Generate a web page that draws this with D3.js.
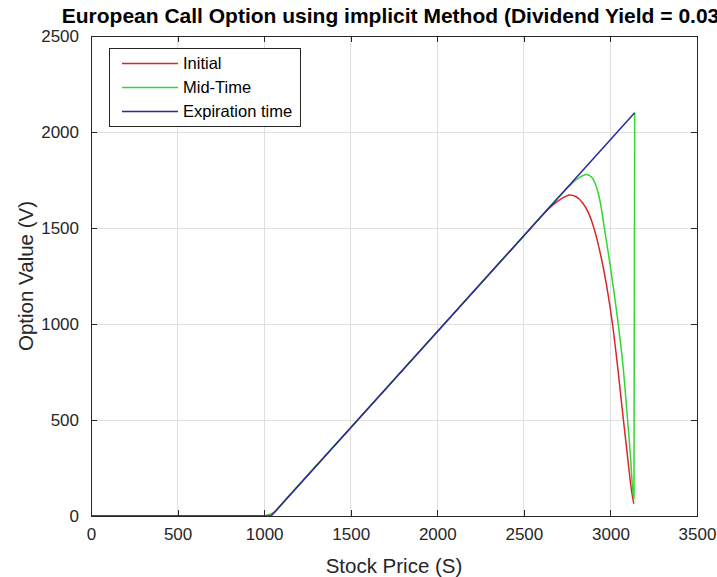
<!DOCTYPE html>
<html>
<head>
<meta charset="utf-8">
<script src="https://cdn.jsdelivr.net/npm/d3@7"></script>
<style>
  html, body { margin: 0; padding: 0; background: #fff; }
  svg { display: block; }
  text { font-family: "Liberation Sans", Arial, Helvetica, sans-serif; }
</style>
</head>
<body>
<svg id="chart" width="717" height="577"></svg>
<script>
// ---- data ----
const xTicks = [0, 500, 1000, 1500, 2000, 2500, 3000, 3500];
const yTicks = [0, 500, 1000, 1500, 2000, 2500];

const seriesNames = ["Initial", "Mid-Time", "Expiration time"];
const seriesColors = ["#d8262a", "#33d633", "#2a2aa0"];

const initialS = [0, 990, 1010, 1030, 1050, 1070, 1090, 1110, 1500, 2000, 2500, 2600, 2650, 2700, 2740, 2764, 2800, 2840, 2870, 2896, 2920, 2947, 2980, 3012, 3045, 3075, 3100, 3123, 3135];
const initialV = [0, 0, 2, 7, 15, 30, 50, 70, 460, 960, 1460, 1560, 1606, 1642, 1664, 1672, 1664, 1630, 1585, 1525, 1450, 1345, 1190, 1000, 750, 500, 300, 125, 64];

const midS = [0, 990, 1010, 1030, 1050, 1070, 1090, 1110, 1500, 2000, 2500, 2700, 2760, 2800, 2830, 2860, 2880, 2900, 2920, 2940, 2965, 2994, 3020, 3045, 3075, 3099, 3115, 3129, 3136, 3140];
const midV = [0, 0, 1, 5, 12, 28, 49, 70, 460, 960, 1460, 1660, 1716, 1750, 1768, 1778, 1773, 1755, 1712, 1640, 1500, 1333, 1170, 1000, 760, 500, 320, 133, 90, 2100];

const expS = [0, 1040, 3140];
const expV = [0, 0, 2100];

const titleText = "European Call Option using implicit Method (Dividend Yield = 0.03)";
const xLabel = "Stock Price (S)";
const yLabel = "Option Value (V)";

// ---- layout ----
const svg = d3.select("#chart");
const L = 91, R = 697, T = 36, B = 516;
const x = d3.scaleLinear().domain([0, 3500]).range([L, R]);
const y = d3.scaleLinear().domain([0, 2500]).range([B, T]);
const axisColor = "#262626";
const tickLen = 6;

// grid
const g = svg.append("g");
g.selectAll(".gx").data(xTicks.slice(1, -1)).enter().append("line")
  .attr("x1", d => x(d)).attr("x2", d => x(d)).attr("y1", T).attr("y2", B)
  .attr("stroke", "#dfdfdf").attr("stroke-width", 1).attr("shape-rendering", "crispEdges");
g.selectAll(".gy").data(yTicks.slice(1, -1)).enter().append("line")
  .attr("y1", d => y(d)).attr("y2", d => y(d)).attr("x1", L).attr("x2", R)
  .attr("stroke", "#dfdfdf").attr("stroke-width", 1).attr("shape-rendering", "crispEdges");

// series
const series = [
  {S: initialS, V: initialV, c: seriesColors[0], curve: d3.curveMonotoneX},
  {S: midS, V: midV, c: seriesColors[1], curve: d3.curveMonotoneX},
  {S: expS, V: expV, c: seriesColors[2], curve: d3.curveLinear}
];
series.forEach(s => {
  const line = d3.line().x(d => x(d[0])).y(d => y(d[1])).curve(s.curve);
  svg.append("path")
    .datum(s.S.map((v, i) => [v, s.V[i]]))
    .attr("d", line)
    .attr("fill", "none")
    .attr("stroke", s.c)
    .attr("stroke-width", 1.5)
    .attr("stroke-linejoin", "round");
});

// axes (MATLAB-style box with inward ticks)
const axB = d3.axisBottom(x).tickValues(xTicks).tickSizeInner(-tickLen).tickSizeOuter(0).tickPadding(12).tickFormat(d3.format("d"));
const axT = d3.axisTop(x).tickValues(xTicks).tickSizeInner(-tickLen).tickSizeOuter(0).tickFormat("");
const axL = d3.axisLeft(y).tickValues(yTicks).tickSizeInner(-tickLen).tickSizeOuter(0).tickPadding(12).tickFormat(d3.format("d"));
const axR = d3.axisRight(y).tickValues(yTicks).tickSizeInner(-tickLen).tickSizeOuter(0).tickFormat("");

function styleAxis(sel) {
  sel.selectAll("path").attr("stroke", axisColor).attr("shape-rendering", "crispEdges");
  sel.selectAll("line").attr("stroke", axisColor).attr("shape-rendering", "crispEdges");
  sel.selectAll("text").attr("fill", axisColor).style("font-size", "17px")
    .style("font-family", '"Liberation Sans", Arial, Helvetica, sans-serif');
}
styleAxis(svg.append("g").attr("transform", `translate(0,${B})`).call(axB));
styleAxis(svg.append("g").attr("transform", `translate(0,${T})`).call(axT));
styleAxis(svg.append("g").attr("transform", `translate(${L},0)`).call(axL));
styleAxis(svg.append("g").attr("transform", `translate(${R},0)`).call(axR));

// labels
svg.append("text").attr("x", (L + R) / 2).attr("y", 23).attr("text-anchor", "middle")
  .style("font-size", "21px").style("font-weight", "bold").attr("fill", "#000").text(titleText);
svg.append("text").attr("x", (L + R) / 2).attr("y", 573).attr("text-anchor", "middle")
  .style("font-size", "20.5px").attr("fill", axisColor).text(xLabel);
svg.append("text").attr("transform", `translate(33,${(T + B) / 2}) rotate(-90)`).attr("text-anchor", "middle")
  .style("font-size", "20.5px").attr("fill", axisColor).text(yLabel);

// legend
const lg = svg.append("g");
lg.append("rect").attr("x", 109.5).attr("y", 48.5).attr("width", 191).attr("height", 78)
  .attr("fill", "#fff").attr("stroke", axisColor).attr("stroke-width", 1);
seriesNames.forEach((n, i) => {
  const yy = 63.5 + i * 24;
  lg.append("line").attr("x1", 122).attr("x2", 178).attr("y1", yy).attr("y2", yy)
    .attr("stroke", seriesColors[i]).attr("stroke-width", 1.4);
  lg.append("text").attr("x", 183).attr("y", yy).attr("dy", "0.35em")
    .style("font-size", "16.5px").attr("fill", "#000").text(n);
});
</script>
</body>
</html>
